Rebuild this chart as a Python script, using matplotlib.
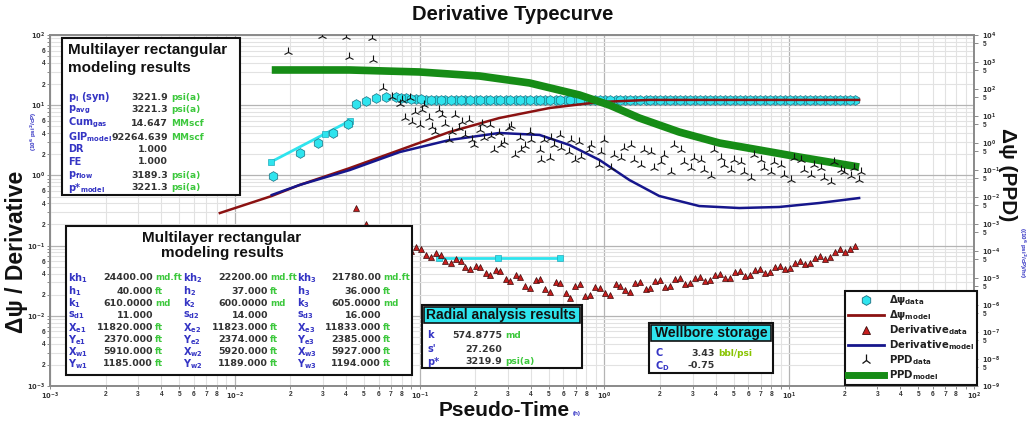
import numpy as np
import matplotlib
matplotlib.use("Agg")
import matplotlib.pyplot as plt
from matplotlib.lines import Line2D
from matplotlib.patches import Rectangle
from matplotlib.ticker import LogLocator, FuncFormatter

W, H = 1027, 428

plt.rcParams['font.family'] = ['Liberation Sans', 'DejaVu Sans']
plt.rcParams['font.weight'] = 'bold'
plt.rcParams['mathtext.fontset'] = 'custom'
plt.rcParams['mathtext.rm'] = 'DejaVu Sans:bold'
plt.rcParams['mathtext.it'] = 'DejaVu Sans:bold'
plt.rcParams['mathtext.bf'] = 'DejaVu Sans:bold'

# ---- data ----
# time grid of the derivative data, pseudo-time in hours
deriv_t = [0.0451, 0.0511, 0.0579, 0.0655, 0.0742, 0.0841, 0.0952, 0.108, 0.122, 0.138,
           0.157, 0.177, 0.201, 0.228, 0.258, 0.292, 0.331, 0.374, 0.424, 0.480,
           0.544, 0.616, 0.697, 0.790, 0.894, 1.01, 1.15, 1.30, 1.47, 1.67,
           1.89, 2.14, 2.42, 2.74, 3.10, 3.51, 3.98, 4.51, 5.10, 5.78,
           6.54, 7.41, 8.39, 9.50, 10.8, 12.2, 13.8, 15.6, 17.7, 20.0, 22.7]
deriv_v = [0.34, 0.20, 0.17, 0.12, 0.115, 0.092, 0.095, 0.074, 0.078, 0.060,
           0.064, 0.049, 0.052, 0.041, 0.045, 0.033, 0.038, 0.027, 0.032, 0.024,
           0.030, 0.021, 0.027, 0.019, 0.026, 0.021, 0.028, 0.023, 0.029, 0.024,
           0.031, 0.026, 0.033, 0.028, 0.035, 0.031, 0.038, 0.034, 0.042, 0.037,
           0.045, 0.041, 0.050, 0.046, 0.057, 0.054, 0.067, 0.064, 0.082, 0.080, 0.098]
deriv_t2 = [0.0789, 0.0893, 0.1012, 0.1146, 0.1298, 0.1470, 0.1665, 0.1885, 0.2135, 0.2418,
            0.2738, 0.3101, 0.3512, 0.3977, 0.4504, 0.5101, 0.5777, 0.6543, 0.7410, 0.8391,
            0.9503, 1.076, 1.219, 1.380, 1.563, 1.770, 2.005, 2.271, 2.572, 2.912,
            3.298, 3.735, 4.230, 4.791, 5.425, 6.144, 6.958, 7.880, 8.924, 10.11,
            11.45, 12.96, 14.68, 16.63, 18.83, 21.32]
deriv_v2 = [0.118, 0.084, 0.090, 0.069, 0.073, 0.056, 0.061, 0.046, 0.050, 0.038,
            0.043, 0.031, 0.036, 0.025, 0.033, 0.022, 0.029, 0.018, 0.028, 0.020,
            0.025, 0.020, 0.027, 0.022, 0.030, 0.025, 0.032, 0.027, 0.034, 0.029,
            0.036, 0.032, 0.040, 0.035, 0.043, 0.038, 0.047, 0.042, 0.052, 0.048,
            0.060, 0.056, 0.071, 0.068, 0.088, 0.090]

dpsi_t = [0.016, 0.0224, 0.0281, 0.034, 0.0408] + deriv_t + deriv_t2
dpsi_v = [0.98, 2.08, 2.9, 4.0, 5.4,
          10.4, 11.6, 12.5, 13.0, 12.9, 12.5, 12.2, 12.0, 11.9, 11.9,
          11.9, 11.9, 11.9, 11.9, 11.9, 11.9, 11.9, 11.9, 11.9, 11.9,
          11.9, 11.9, 11.9, 11.9, 11.9, 11.9, 11.9, 11.9, 11.9, 11.9,
          11.9, 11.9, 11.9, 11.9, 11.9, 11.9, 11.9, 11.9, 11.9, 11.9,
          11.9, 11.9, 11.9, 11.9, 11.9, 11.9, 11.9, 11.9, 11.9, 11.9, 11.9,
          12.7, 12.3, 12.1, 11.9, 11.9, 11.9, 11.9, 11.9, 11.9, 11.9,
          11.9, 11.9, 11.9, 11.9, 11.9, 11.9, 11.9, 11.9, 11.9, 11.9,
          11.9, 11.9, 11.9, 11.9, 11.9, 11.9, 11.9, 11.9, 11.9, 11.9,
          11.9, 11.9, 11.9, 11.9, 11.9, 11.9, 11.9, 11.9, 11.9, 11.9,
          11.9, 11.9, 11.9, 11.9, 11.9, 11.9]

dpsi_model_t = [0.0083, 0.01585, 0.0224, 0.0418, 0.078, 0.145, 0.270, 0.505, 0.940, 1.75, 23.9]
dpsi_model_v = [0.291, 0.509, 0.73, 1.27, 2.30, 4.15, 6.57, 9.12, 11.1, 11.9, 11.9]

deriv_model_t = [0.01585, 0.0224, 0.0418, 0.078, 0.145, 0.270, 0.446, 0.647, 0.940,
                 1.365, 1.98, 3.26, 5.37, 8.83, 14.5, 23.9]
deriv_model_v = [0.526, 0.73, 1.19, 2.15, 3.19, 4.02, 3.77, 2.71, 1.66,
                 0.86, 0.509, 0.366, 0.343, 0.355, 0.404, 0.476]

ppd_t = [0.0193, 0.0295, 0.0398, 0.0550, 0.0413, 0.0557, 0.0631, 0.0706, 0.0780, 0.0830,
         0.0883, 0.0940, 0.100, 0.106, 0.113, 0.121, 0.128, 0.137, 0.145, 0.155,
         0.164, 0.175, 0.186, 0.198, 0.211, 0.224, 0.239, 0.254, 0.270, 0.288,
         0.306, 0.327, 0.348, 0.370, 0.394, 0.446, 0.474, 0.505, 0.537, 0.572,
         0.647, 0.689, 0.733, 0.830, 0.940, 1.00, 1.13, 1.28, 1.45, 1.64,
         1.86, 2.11, 2.39, 2.70, 3.06, 3.48, 3.94, 4.46, 5.05, 5.72,
         6.47, 7.33, 8.30, 9.40, 10.6, 12.1, 13.7, 15.5, 17.5, 19.8,
         22.4, 23.9]
ppd_v = [2345, 9180, 8433, 7745, 1531, 1186, 109, 50.6, 27.8, 8.43,
         46.4, 14.1, 4.64, 25.5, 8.43, 2.55, 16.7, 5.06, 1.29, 10.9,
         3.59, 1.98, 7.11, 0.843, 3.03, 1.53, 4.64, 0.551, 2.34, 1.09,
         3.59, 0.360, 1.53, 0.774, 2.55, 0.551, 1.29, 0.278, 0.843, 1.98,
         0.464, 0.234, 1.09, 0.551, 0.153, 1.29, 0.360, 0.653, 0.234, 0.551,
         0.119, 0.360, 0.843, 0.198, 0.278, 0.100, 0.551, 0.153, 0.234, 0.0843,
         0.360, 0.119, 0.198, 0.0653, 0.278, 0.100, 0.153, 0.0506, 0.198, 0.0843,
         0.119, 0.0427]
ppd_t2 = [0.0799, 0.0905, 0.1025, 0.1161, 0.1315, 0.1489, 0.1686, 0.1910, 0.2163, 0.2449,
          0.2774, 0.3141, 0.3558, 0.4029, 0.4563, 0.5168, 0.5852, 0.6628, 0.7506, 0.8501,
          0.9627, 1.090, 1.235, 1.398, 1.584, 1.793, 2.031, 2.300, 2.605, 2.950,
          3.341, 3.783, 4.285, 4.852, 5.495, 6.224, 7.048, 7.982, 9.040, 10.24,
          11.59, 13.13, 14.87, 16.84, 19.07, 21.59, 24.45]
ppd_v2 = [39.1, 6.0, 16.7, 3.92, 10.9, 2.55, 6.0, 1.29, 5.06, 1.82,
          0.843, 4.27, 0.551, 1.29, 0.234, 1.53, 0.653, 1.29, 0.303, 0.843,
          0.464, 0.119, 0.278, 0.843, 0.153, 0.464, 0.198, 0.0843, 0.551, 0.119,
          0.234, 0.060, 0.278, 0.100, 0.198, 0.0506, 0.234, 0.0843, 0.153, 0.0427,
          0.234, 0.0653, 0.119, 0.036, 0.100, 0.060, 0.0843]

ppd_model_t = [0.01585, 0.0418, 0.100, 0.211, 0.394, 0.733, 1.064, 1.545, 2.54, 4.19, 6.89, 11.3, 23.9]
ppd_model_v = [506, 506, 427, 303, 167, 60, 25.5, 8.43, 2.55, 1.0, 0.551, 0.303, 0.129]

radial1_t = [0.01566, 0.0306, 0.0418]
radial1_v = [1.55, 3.89, 5.96]
radial2_t = [0.128, 0.264, 0.572]
radial2_v = [0.0666, 0.0666, 0.0666]

box1_labels = [r'p$_{i}$ (syn)', r'p$_{avg}$', r'Cum$_{gas}$', r'GIP$_{model}$',
               'DR', 'FE', r'p$_{flow}$', r'p*$_{model}$']
box1_values = ['3221.9', '3221.3', '14.647', '92264.639', '1.000', '1.000', '3189.3', '3221.3']
box1_units = ['psi(a)', 'psi(a)', 'MMscf', 'MMscf', '', '', 'psi(a)', 'psi(a)']

box2_labels = [['kh$_{1}$', 'h$_{1}$', 'k$_{1}$', 's$_{d1}$', 'X$_{e1}$', 'Y$_{e1}$', 'X$_{w1}$', 'Y$_{w1}$'],
               ['kh$_{2}$', 'h$_{2}$', 'k$_{2}$', 's$_{d2}$', 'X$_{e2}$', 'Y$_{e2}$', 'X$_{w2}$', 'Y$_{w2}$'],
               ['kh$_{3}$', 'h$_{3}$', 'k$_{3}$', 's$_{d3}$', 'X$_{e3}$', 'Y$_{e3}$', 'X$_{w3}$', 'Y$_{w3}$']]
box2_values = [['24400.00', '40.000', '610.0000', '11.000', '11820.000', '2370.000', '5910.000', '1185.000'],
               ['22200.00', '37.000', '600.0000', '14.000', '11823.000', '2374.000', '5920.000', '1189.000'],
               ['21780.00', '36.000', '605.0000', '16.000', '11833.000', '2385.000', '5927.000', '1194.000']]
box2_units = ['md.ft', 'ft', 'md', '', 'ft', 'ft', 'ft', 'ft']

radial_labels = ['k', "s'", 'p*']
radial_values = ['574.8775', '27.260', '3219.9']
radial_units = ['md', '', 'psi(a)']

wb_labels = ['C', 'C$_{D}$']
wb_values = ['3.43', '-0.75']
wb_units = ['bbl/psi', '']

LBL = '#3434C4'
VAL = '#333333'
UNI = '#3CC83C'
CYAN = '#2EE4EE'


def fx(x):
    return x / W


def fy(y):
    return 1 - y / H


def put(x, y, s, color=VAL, size=6.8, ha='left', family='DejaVu Sans', **kw):
    fig.text(fx(x), fy(y), s, color=color, fontsize=size, ha=ha, va='center',
             family=family, weight='bold', zorder=7, **kw)


def box(x0, y0, x1, y1, fc='white', lw=1.5, z=5):
    fig.add_artist(Rectangle((fx(x0), fy(y1)), (x1 - x0) / W, (y1 - y0) / H,
                             transform=fig.transFigure, facecolor=fc,
                             edgecolor='#111111', lw=lw, zorder=z))


def major_fmt(v, pos):
    return r'$\mathbf{10^{%d}}$' % int(round(np.log10(v)))


def minor_fmt(keep):
    def f(v, pos):
        m = int(round(v / 10 ** np.floor(np.log10(v) + 1e-9)))
        return str(m) if m in keep else ''
    return FuncFormatter(f)


fig = plt.figure(figsize=(W / 100, H / 100), dpi=100)
ax = fig.add_axes([fx(50), fy(386), (974 - 50) / W, (386 - 35) / H])
ax.set_xscale('log')
ax.set_yscale('log')
ax.set_xlim(1e-3, 1e2)
ax.set_ylim(1e-3, 1e2)
ax2 = ax.twinx()
ax2.set_yscale('log')
ax2.set_ylim(1e-9, 1e4)

for a in (ax.xaxis, ax.yaxis):
    a.set_major_locator(LogLocator(base=10, numticks=20))
    a.set_minor_locator(LogLocator(base=10, subs=range(2, 10), numticks=20))
    a.set_major_formatter(FuncFormatter(major_fmt))
ax.xaxis.set_minor_formatter(minor_fmt([2, 3, 4, 5, 6, 7, 8]))
ax.yaxis.set_minor_formatter(minor_fmt([2, 4, 6]))
ax2.yaxis.set_major_locator(LogLocator(base=10, numticks=20))
ax2.yaxis.set_minor_locator(LogLocator(base=10, subs=[5], numticks=20))
ax2.yaxis.set_major_formatter(FuncFormatter(major_fmt))
ax2.yaxis.set_minor_formatter(minor_fmt([5]))

ax.grid(which='major', color='#b4b4b4', lw=0.9)
ax.grid(which='minor', color='#e2e2e2', lw=0.8)
ax.set_axisbelow(True)

ax.tick_params(which='both', labelsize=4.8, colors='#777777', labelcolor='#333333',
               length=2.5, width=0.6, pad=1)
ax2.tick_params(which='both', labelsize=4.8, colors='#777777', labelcolor='#333333',
                length=3, width=0.6, pad=3)
for a in (ax, ax2):
    for sp in a.spines.values():
        sp.set_color('#8a8a8a')
        sp.set_linewidth(1.2)

# ---- curves ----
ax.plot(radial1_t, radial1_v, color=CYAN, lw=2, marker='s', ms=5,
        mfc=CYAN, mec='#22aabb', mew=0.5, zorder=3)
ax.plot(radial2_t, radial2_v, color=CYAN, lw=2, marker='s', ms=5,
        mfc=CYAN, mec='#22aabb', mew=0.5, zorder=3)
ax.plot(dpsi_t, dpsi_v, ls='none', marker='h', ms=7, mfc=CYAN, mec='#1b6f80',
        mew=0.5, zorder=4)
ax.plot(deriv_t + deriv_t2, deriv_v + deriv_v2, ls='none', marker='^', ms=4.5,
        mfc='#c81e1e', mec='#3a0a0a', mew=0.5, zorder=4)
ax.plot(dpsi_model_t, dpsi_model_v, color='#8b1212', lw=1.8, zorder=5)
ax.plot(deriv_model_t, deriv_model_v, color='#16168c', lw=1.8, zorder=5)

ax2.plot(ppd_model_t, ppd_model_v, color='#168c16', lw=5.5, solid_capstyle='butt', zorder=3)
ax2.plot(ppd_t + ppd_t2, ppd_v + ppd_v2, ls='none', marker='2', ms=7, color='#111111',
         mew=0.8, zorder=4)

# ---- titles and axis labels ----
fig.text(fx(513), fy(15), 'Derivative Typecurve', fontsize=14.5, ha='center', va='center', color='#111111')
fig.text(fx(504), fy(410), 'Pseudo-Time', fontsize=15, ha='center', va='center', color='#111111')
fig.text(fx(577), fy(414), '(h)', fontsize=4.5, ha='center', va='center', color='#3434c4')
fig.text(fx(17), fy(252), 'Δψ / Derivative', fontsize=16.5, rotation=90, ha='center', va='center', color='#111111')
fig.text(fx(34), fy(131), '(10$^{6}$ psi$^{2}$/cP)', fontsize=4.5, rotation=90, ha='center', va='center', color='#3434c4')
fig.text(fx(1008), fy(175), 'Δψ (PPD)', fontsize=15, rotation=-90, ha='center', va='center', color='#111111')
fig.text(fx(1022), fy(253), '((10$^{6}$ psi$^{2}$/cP)/hr)', fontsize=4.5, rotation=-90, ha='center', va='center', color='#3434c4')

# ---- box 1 ----
box(62, 38, 240, 195)
put(68, 50, 'Multilayer rectangular', color='#111111', size=11, family='Liberation Sans')
put(68, 68, 'modeling results', color='#111111', size=11, family='Liberation Sans')
rows1 = [97, 110, 123, 137, 149, 162, 175, 188]
for yy, lab, val, un in zip(rows1, box1_labels, box1_values, box1_units):
    put(68, yy, lab, color=LBL, size=7)
    put(168, yy, val, ha='right')
    put(171, yy, un, color=UNI, size=6.5)

# ---- box 2 ----
box(66, 226, 412, 375)
put(222, 238, 'Multilayer rectangular', color='#111111', size=11, ha='center', family='Liberation Sans')
put(222, 253, 'modeling results', color='#111111', size=11, ha='center', family='Liberation Sans')
rows2 = [278, 291, 303, 315, 328, 340, 352, 364]
cols = [(68, 153, 155), (183, 268, 270), (297, 381, 383)]
for (xl, xv, xu), labs, vals in zip(cols, box2_labels, box2_values):
    for yy, lab, val, un in zip(rows2, labs, vals, box2_units):
        put(xl, yy, lab, color=LBL, size=7)
        put(xv, yy, val, ha='right')
        put(xu, yy, un, color=UNI, size=6.3)

# ---- radial analysis box ----
box(422, 305, 582, 368)
box(424, 307, 580, 323, fc=CYAN, lw=1.2, z=6)
put(426, 315, 'Radial analysis results', color='#111111', size=10, family='Liberation Sans')
for yy, lab, val, un in zip([335, 349, 362], radial_labels, radial_values, radial_units):
    put(427, yy, lab, color=LBL, size=7)
    put(502, yy, val, ha='right')
    put(505, yy, un, color=UNI, size=6.5)

# ---- wellbore storage box ----
box(649, 323, 773, 373)
box(651, 325, 771, 341, fc=CYAN, lw=1.2, z=6)
put(655, 333, 'Wellbore storage', color='#111111', size=10, family='Liberation Sans')
for yy, lab, val, un in zip([353, 366], wb_labels, wb_values, wb_units):
    put(655, yy, lab, color=LBL, size=7)
    put(715, yy, val, ha='right')
    put(718, yy, un, color='#88c400', size=6.5)

# ---- legend ----
handles = [
    Line2D([], [], ls='none', marker='h', ms=7, mfc=CYAN, mec='#1b6f80', mew=0.6),
    Line2D([], [], color='#8b1212', lw=2),
    Line2D([], [], ls='none', marker='^', ms=6, mfc='#c81e1e', mec='#3a0a0a', mew=0.6),
    Line2D([], [], color='#16168c', lw=2),
    Line2D([], [], ls='none', marker='2', ms=8, color='#111111', mew=0.9),
    Line2D([], [], color='#168c16', lw=5),
]
labels = [r'$\Delta\psi_{data}$', r'$\Delta\psi_{model}$', r'Derivative$_{data}$',
          r'Derivative$_{model}$', r'PPD$_{data}$', r'PPD$_{model}$']
leg = fig.legend(handles, labels, loc='lower right', bbox_to_anchor=(fx(977), fy(385)),
                 prop={'family': 'DejaVu Sans', 'weight': 'bold', 'size': 7.3},
                 frameon=True, fancybox=False, framealpha=1, edgecolor='#111111',
                 handlelength=3.6, handletextpad=0.5, borderpad=0.25,
                 labelspacing=0.12, borderaxespad=0)
leg.get_frame().set_linewidth(1.5)
for t in leg.get_texts():
    t.set_color('#222222')

fig.savefig('out.png', dpi=100)
